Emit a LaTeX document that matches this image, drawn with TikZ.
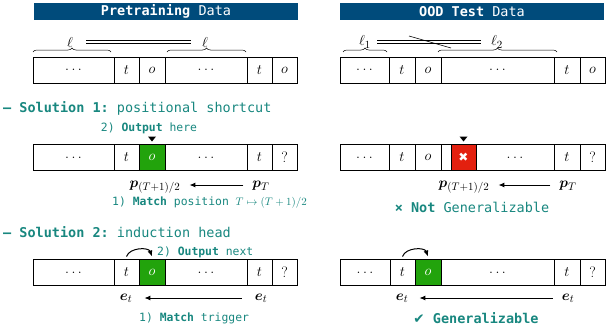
\documentclass[tikz,border=0pt]{standalone}
\usepackage{amsmath}
\usepackage{fontspec}
\setmonofont{DejaVu Sans Mono}
\newfontfamily\symfont{DejaVu Sans}
\usepackage{tikz}
\usetikzlibrary{positioning,arrows.meta,decorations.pathreplacing}
\usepackage{xcolor}
\definecolor{hdrblue}{HTML}{004B7B}
\definecolor{noteteal}{HTML}{18877F}
\definecolor{hitgreen}{HTML}{22A30C}
\definecolor{missred}{HTML}{E3200F}
\tikzset{
  cell/.style={draw, line width=0.8pt, minimum height=26pt, inner sep=0pt, outer sep=0pt, font=\fontsize{15}{17}\selectfont},
  hitcell/.style={cell, fill=hitgreen, text=white},
  misscell/.style={cell, fill=missred, text=white},
  hdr/.style={fill=hdrblue, text=white, minimum width=264pt, minimum height=17pt, inner sep=0pt, font=\ttfamily\fontsize{13.5}{15}\selectfont},
  note/.style={text=noteteal, inner sep=0pt, font=\ttfamily\fontsize{13.5}{15}\selectfont},
  stepnote/.style={text=noteteal, inner sep=0pt, font=\ttfamily\fontsize{11.4}{13}\selectfont},
  lenlbl/.style={inner sep=2pt, font=\fontsize{15}{17}\selectfont},
  veclbl/.style={inner sep=2pt, text height=9pt, text depth=5pt, font=\fontsize{15}{17}\selectfont},
  span/.style={decorate, decoration={brace, amplitude=4pt}, line width=0.5pt},
  eqline/.style={double, line width=0.6pt, double distance=2pt},
  match/.style={-{Latex[length=6pt,width=5pt]}, line width=1pt, shorten <=7pt, shorten >=7pt},
  hop/.style={-{Latex[length=6pt,width=5pt]}, line width=1pt},
}

\begin{document}
\begin{tikzpicture}[x=1pt,y=1pt]
\useasboundingbox (0,0) rectangle (611,-327);

% headers
\node[hdr] (hpre) at (166,-11.5) {\textbf{Pretraining} Data};
\node[hdr] (hood) at (472,-11.5) {\textbf{OOD Test} Data};

% pretraining sequence
\node[cell, minimum width=81pt, anchor=west] (pa1) at (33,-70) {$\ldots$};
\node[cell, minimum width=25pt, right=0pt of pa1] (pa2) {$t$};
\node[cell, minimum width=26pt, right=0pt of pa2] (pa3) {$o$};
\node[cell, minimum width=82pt, right=0pt of pa3] (pa4) {$\ldots$};
\node[cell, minimum width=25pt, right=0pt of pa4] (pa5) {$t$};
\node[cell, minimum width=25pt, right=0pt of pa5] (pa6) {$o$};
\draw[span] ([yshift=5pt]pa1.north west) -- ([xshift=-3pt,yshift=5pt]pa1.north east);
\draw[span] ([xshift=2pt,yshift=5pt]pa4.north west) -- ([xshift=-1pt,yshift=5pt]pa4.north east);
\node[lenlbl] (lena) at (70,-42) {$\ell$};
\node[lenlbl] (lenb) at (205,-42) {$\ell$};
\draw[eqline, shorten <=11pt, shorten >=9pt] (lena.east) -- (lenb.west);

% OOD sequence
\node[cell, minimum width=49pt, anchor=west] (oa1) at (340,-70) {$\ldots$};
\node[cell, minimum width=26pt, right=0pt of oa1] (oa2) {$t$};
\node[cell, minimum width=26pt, right=0pt of oa2] (oa3) {$o$};
\node[cell, minimum width=113pt, right=0pt of oa3] (oa4) {$\ldots$};
\node[cell, minimum width=26pt, right=0pt of oa4] (oa5) {$t$};
\node[cell, minimum width=25pt, right=0pt of oa5] (oa6) {$o$};
\draw[span] ([xshift=3pt,yshift=5pt]oa1.north west) -- ([xshift=-2pt,yshift=5pt]oa1.north east);
\draw[span] ([xshift=-3pt,yshift=5pt]oa4.north west) -- ([xshift=3pt,yshift=5pt]oa4.north east);
\node[lenlbl] (lenc) at (365,-42) {$\ell_1$};
\node[lenlbl] (lend) at (497,-42) {$\ell_2$};
\draw[eqline, shorten <=4pt, shorten >=8pt] (lenc.east) -- (lend.west);
\coordinate (neq) at (430,-42);
\draw[line width=0.6pt] ([shift={(-21,6)}]neq) -- ([shift={(21,-6)}]neq);

% solution 1
\node[note, anchor=west] (sol1) at (3,-108) {\textbf{– Solution 1:} positional shortcut};
\node[stepnote] (out1) at (149,-128) {2) \textbf{Output} here};

\node[cell, minimum width=81pt, anchor=west] (sa1) at (33,-157.5) {$\ldots$};
\node[cell, minimum width=25pt, right=0pt of sa1] (sa2) {$t$};
\node[hitcell, minimum width=26pt, right=0pt of sa2] (sa3) {$o$};
\node[cell, minimum width=82pt, right=0pt of sa3] (sa4) {$\ldots$};
\node[cell, minimum width=25pt, right=0pt of sa4] (sa5) {$t$};
\node[cell, minimum width=25pt, right=0pt of sa5] (sa6) {?};
\fill ([yshift=3pt]sa3.north) -- ++(-4,5) -- ++(8,0) -- cycle;
\node[veclbl] (pmida) at (155,-185) {$\boldsymbol{p}_{(T+1)/2}$};
\node[veclbl] (penda) at (261,-185) {$\boldsymbol{p}_T$};
\draw[match] (penda.west) -- (pmida.east);
\node[stepnote, anchor=west] (mat1) at (112,-203) {1) \textbf{Match} position $T\mapsto(T+1)/2$};

\node[cell, minimum width=49pt, anchor=west] (sb1) at (340,-157.5) {$\ldots$};
\node[cell, minimum width=26pt, right=0pt of sb1] (sb2) {$t$};
\node[cell, minimum width=26pt, right=0pt of sb2] (sb3) {$o$};
\node[cell, minimum width=10pt, right=0pt of sb3] (sb4) {};
\node[misscell, minimum width=25pt, right=0pt of sb4] (sb5) {\fontsize{12}{14}\symfont\bfseries ✖};
\node[cell, minimum width=78pt, right=0pt of sb5] (sb6) {$\ldots$};
\node[cell, minimum width=26pt, right=0pt of sb6] (sb7) {$t$};
\node[cell, minimum width=25pt, right=0pt of sb7] (sb8) {?};
\fill ([yshift=3pt]sb5.north) -- ++(-4,5) -- ++(8,0) -- cycle;
\node[veclbl] (pmidb) at (464,-185) {$\boldsymbol{p}_{(T+1)/2}$};
\node[veclbl] (pendb) at (568,-185) {$\boldsymbol{p}_T$};
\draw[match] (pendb.west) -- (pmidb.east);
\node[note] (ngen) at (472,-207) {\textbf{×} \textbf{Not} Generalizable};

% solution 2
\node[note, anchor=west] (sol2) at (3,-232) {\textbf{– Solution 2:} induction head};

\node[cell, minimum width=81pt, anchor=west] (ia1) at (33,-272.5) {$\ldots$};
\node[cell, minimum width=25pt, right=0pt of ia1] (ia2) {$t$};
\node[hitcell, minimum width=26pt, right=0pt of ia2] (ia3) {$o$};
\node[cell, minimum width=82pt, right=0pt of ia3] (ia4) {$\ldots$};
\node[cell, minimum width=25pt, right=0pt of ia4] (ia5) {$t$};
\node[cell, minimum width=25pt, right=0pt of ia5] (ia6) {?};
\draw[hop] ([yshift=3pt]ia2.north) to[out=70,in=110] ([yshift=3pt]ia3.north);
\node[stepnote, anchor=west] (out2) at (157,-252) {2) \textbf{Output} next};
\node[veclbl] (eheada) at (126,-298) {$\boldsymbol{e}_t$};
\node[veclbl] (etaila) at (261,-298) {$\boldsymbol{e}_t$};
\draw[match, shorten <=11pt, shorten >=10pt] (etaila.west) -- (eheada.east);
\node[stepnote, anchor=west] (mat2) at (139,-318) {1) \textbf{Match} trigger};

\node[cell, minimum width=50pt, anchor=west] (ib1) at (340,-272.5) {$\ldots$};
\node[cell, minimum width=25pt, right=0pt of ib1] (ib2) {$t$};
\node[hitcell, minimum width=26pt, right=0pt of ib2] (ib3) {$o$};
\node[cell, minimum width=113pt, right=0pt of ib3] (ib4) {$\ldots$};
\node[cell, minimum width=26pt, right=0pt of ib4] (ib5) {$t$};
\node[cell, minimum width=25pt, right=0pt of ib5] (ib6) {?};
\draw[hop] ([yshift=3pt]ib2.north) to[out=70,in=110] ([yshift=3pt]ib3.north);
\node[veclbl] (eheadb) at (402,-298) {$\boldsymbol{e}_t$};
\node[veclbl] (etailb) at (568,-298) {$\boldsymbol{e}_t$};
\draw[match, shorten <=7pt, shorten >=9pt] (etailb.west) -- (eheadb.east);
\node[note] (gen) at (476,-318) {{\symfont\bfseries ✔} \textbf{Generalizable}};
\end{tikzpicture}
\end{document}
